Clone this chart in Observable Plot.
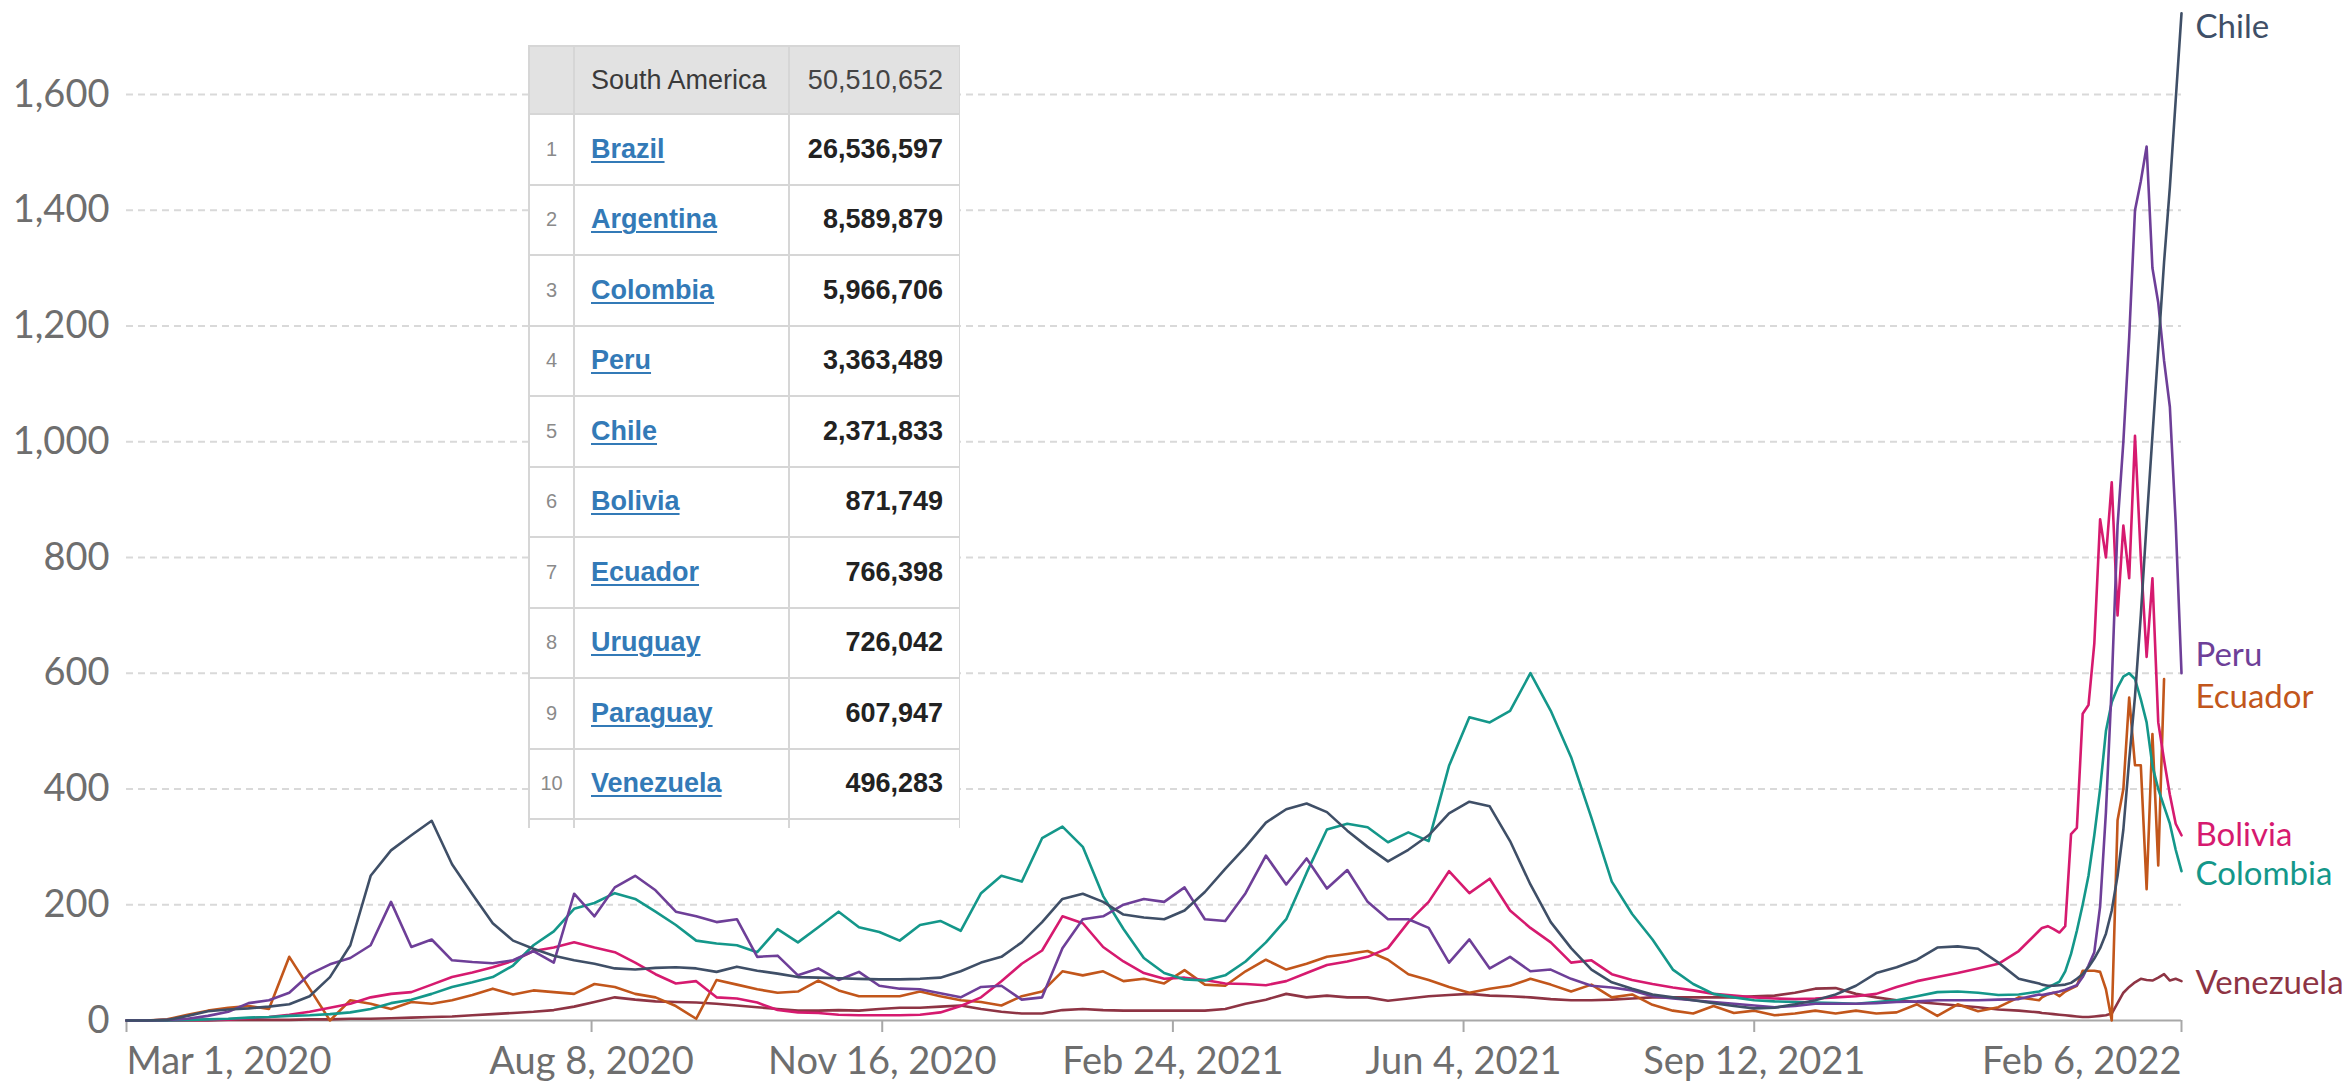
<!DOCTYPE html>
<html>
<head>
<meta charset="utf-8">
<script src="https://cdn.jsdelivr.net/npm/d3@7"></script>
<script src="https://cdn.jsdelivr.net/npm/@observablehq/plot@0.6"></script>
<style>
html, body { margin: 0; padding: 0; background: #fff; }
#wrap { position: relative; width: 2346px; height: 1082px; overflow: hidden; }
#chart svg { display: block; }
#tbl { position: absolute; left: 528px; top: 45px; width: 432px; height: 783px; overflow: hidden; background: #fff; }
#tbl table { border-collapse: collapse; table-layout: fixed; width: 431px; font-family: "Liberation Sans", Arial, sans-serif; }
#tbl td { border: 2px solid #d6d6d6; padding: 0; white-space: nowrap; }
#tbl tr.head td { background: #e2e2e2; height: 66px; font-size: 27px; color: #3a3a3a; }
#tbl tr.row td { height: 68.5px; }
#tbl td.rank { text-align: center; font-size: 20px; color: #8a8a8a; }
#tbl td.name { padding-left: 16px; font-size: 27px; font-weight: bold; }
#tbl td.name a { color: #337ab7; text-decoration: underline; text-decoration-thickness: 2px; text-underline-offset: 3px; }
#tbl td.val { text-align: right; padding-right: 16px; font-size: 27px; font-weight: bold; color: #222; }
#tbl tr.head td.val { font-weight: normal; color: #444; }
</style>
</head>
<body>
<div id="wrap">
  <div id="chart"></div>
  <div id="tbl"></div>
</div>
<script>
// ---------- Data ----------
const startDate = "2020-03-01";
const endDate = "2022-02-06";
// weekly samples (day 0..658, step 7) followed by 2-day samples (day 659..707)
const weeklyCount = 95;
const tailStart = 659, tailStep = 2, tailCount = 25;

const countries = ["Venezuela", "Ecuador", "Bolivia", "Colombia", "Peru", "Chile"];
const colors = ["#8e3444", "#c2561b", "#d61a6f", "#14978a", "#6e3f98", "#3f4f67"];

const chile = [
  0,0,1,8,16,19,21,24,28,42,
  75,130,250,294,320,345,270,218,168,138,
  124,112,104,98,90,88,91,92,90,84,
  93,86,81,75,74,73,72,71,71,72,
  74,85,100,110,135,170,210,219,205,183,
  178,175,190,222,262,300,342,365,375,360,
  328,300,275,295,320,358,378,370,310,235,
  170,125,88,66,55,45,40,35,30,25,
  21,22,28,35,45,60,82,92,105,126,
  128,124,100,72,64,
  62,60,60,61,62,65,72,80,92,107,125,150,190,250,330,450,560,700,860,1010,1160,1310,1440,1590,1740
];
const peru = [
  0,0,1,3,8,15,30,35,48,80,
  97,108,130,205,127,140,104,101,99,104,
  120,100,219,180,230,250,225,188,180,170,
  175,110,112,78,90,70,84,60,55,54,
  47,40,58,60,36,40,125,175,180,200,
  210,205,230,175,172,220,285,235,280,228,
  260,205,175,175,160,100,140,90,110,85,
  88,72,60,57,52,42,38,35,32,29,
  26,23,25,29,29,29,30,32,33,35,
  35,35,36,37,45,
  44,46,48,50,53,57,61,75,95,118,197,360,580,855,1000,1180,1400,1450,1510,1300,1240,1140,1060,860,600
];
const colombia = [
  0,0,0,1,2,3,5,6,8,9,
  11,14,20,30,36,46,58,66,75,95,
  130,154,193,203,220,210,188,165,138,133,
  130,118,158,135,161,188,161,153,138,165,
  172,155,220,250,240,315,335,300,215,158,
  108,82,71,69,78,102,135,175,255,330,
  340,334,308,325,310,440,524,515,535,600,
  535,455,350,240,184,140,88,63,46,40,
  35,33,32,31,30,29,32,35,42,49,
  50,48,44,45,50,
  52,57,62,67,85,115,155,200,250,320,400,500,550,575,594,600,590,555,515,440,400,370,340,295,258
];
const bolivia = [
  0,0,0,1,1,2,4,6,10,15,
  22,29,40,46,49,62,75,83,92,103,
  120,126,135,126,118,100,80,64,68,40,
  38,31,18,14,13,10,9,9,9,10,
  14,25,40,68,98,121,180,168,127,102,
  82,72,74,70,64,63,61,68,82,96,
  102,110,125,170,205,258,220,245,190,160,
  135,100,104,80,70,63,57,52,46,43,
  40,38,37,38,40,42,46,58,68,75,
  82,90,98,120,155,
  160,163,158,152,163,322,333,530,545,651,866,800,930,700,855,764,1010,800,628,764,515,450,390,340,320
];
const ecuador = [
  0,0,2,10,17,22,25,20,110,55,
  0,35,29,20,32,29,35,44,55,45,
  52,49,46,63,58,46,40,25,3,70,
  62,54,48,50,69,52,42,42,42,50,
  42,35,32,26,42,50,85,78,85,68,
  72,64,87,62,60,85,105,88,98,110,
  115,120,105,80,70,58,48,55,60,72,
  62,50,62,40,45,27,17,12,25,13,
  17,9,12,17,12,17,12,14,28,8,
  28,16,23,40,35,
  40,45,48,42,50,55,60,86,86,86,84,54,0,346,400,558,441,441,227,495,268,590,null,null,null
];
const venezuela = [
  0,0,0,0,0,1,1,1,1,2,
  2,3,3,4,5,6,7,9,11,13,
  15,18,24,32,40,36,33,32,31,29,
  26,23,20,17,17,18,17,20,22,22,
  24,26,20,15,12,12,18,20,18,17,
  17,17,17,17,20,29,36,46,40,43,
  40,40,34,38,42,44,46,43,42,40,
  37,35,35,36,38,40,40,40,40,40,
  42,43,48,55,56,46,40,35,32,29,
  26,23,19,17,14,
  13,12,11,10,9,8,7,6,6,7,8,9,12,30,48,58,66,72,70,69,74,80,69,72,68
];
const seriesValues = { Venezuela: venezuela, Ecuador: ecuador, Bolivia: bolivia, Colombia: colombia, Peru: peru, Chile: chile };

// end labels (positions after collision avoidance, in data units)
const labelNames = ["Chile", "Peru", "Ecuador", "Bolivia", "Colombia", "Venezuela"];
const labelValues = [1716, 630, 558, 320, 253, 64];

// axes
const yTicks = [0, 200, 400, 600, 800, 1000, 1200, 1400, 1600];
const gridValues = [200, 400, 600, 800, 1000, 1200, 1400, 1600];
const tickDates = ["2020-03-01", "2020-08-08", "2020-11-16", "2021-02-24", "2021-06-04", "2021-09-12", "2022-02-06"];
const tickLabels = ["Mar 1, 2020", "Aug 8, 2020", "Nov 16, 2020", "Feb 24, 2021", "Jun 4, 2021", "Sep 12, 2021", "Feb 6, 2022"];

// table
const tableRegion = "South America";
const tableTotal = "50,510,652";
const tableCountries = ["Brazil", "Argentina", "Colombia", "Peru", "Chile", "Bolivia", "Ecuador", "Uruguay", "Paraguay", "Venezuela"];
const tableValues = ["26,536,597", "8,589,879", "5,966,706", "3,363,489", "2,371,833", "871,749", "766,398", "726,042", "607,947", "496,283"];

// ---------- Build ----------
const start = new Date(startDate);
const dates = [];
for (let k = 0; k < weeklyCount; k++) dates.push(d3.utcDay.offset(start, 7 * k));
for (let j = 0; j < tailCount; j++) dates.push(d3.utcDay.offset(start, tailStart + tailStep * j));

const rows = [];
for (const c of countries) {
  seriesValues[c].forEach((v, i) => rows.push({ date: dates[i], value: v, country: c }));
}

const ticks = tickDates.map((d, i) => ({
  date: new Date(d), label: tickLabels[i],
  anchor: i === 0 ? "start" : i === tickDates.length - 1 ? "end" : "middle"
}));
const endLabels = labelNames.map((n, i) => ({ name: n, y: labelValues[i], date: new Date(endDate) }));

const axisColor = "#6e6e6e";
const tickText = (anchor) => Plot.text(ticks.filter(t => t.anchor === anchor), {
  x: "date", text: "label", frameAnchor: "bottom", lineAnchor: "top", dy: 27,
  textAnchor: anchor, fill: axisColor, fontSize: 38
});

const chart = Plot.plot({
  width: 2346,
  height: 1082,
  marginLeft: 126,
  marginRight: 165,
  marginTop: 10,
  marginBottom: 62,
  style: { fontFamily: "Lato, sans-serif", fontSize: "38px", background: "white", overflow: "visible" },
  x: { type: "utc", domain: [new Date(startDate), new Date(endDate)], label: null },
  y: { domain: [0, 1745], label: null },
  color: { domain: countries, range: colors },
  marks: [
    Plot.ruleY(gridValues, { stroke: "#d9d9d9", strokeWidth: 2, strokeDasharray: "7,5" }),
    Plot.axisY({ ticks: yTicks, tickSize: 0, tickPadding: 17, tickFormat: d3.format(","), fontSize: 38, color: axisColor, label: null }),
    Plot.axisX({ ticks: tickDates.map(d => new Date(d)), tickSize: 12, tickFormat: () => "", stroke: "#a8a8a8", strokeWidth: 2, label: null }),
    Plot.ruleY([0], { stroke: "#a8a8a8", strokeWidth: 2 }),
    tickText("start"),
    tickText("middle"),
    tickText("end"),
    Plot.line(rows, { x: "date", y: "value", z: "country", stroke: "country", strokeWidth: 2.6 }),
    Plot.text(endLabels, { x: "date", y: "y", text: "name", fill: "name", textAnchor: "start", dx: 14, fontSize: 33 })
  ]
});
document.getElementById("chart").appendChild(chart);

// table
const tbl = document.createElement("table");
const cg = document.createElement("colgroup");
[45, 215, 171].forEach(w => { const c = document.createElement("col"); c.style.width = w + "px"; cg.appendChild(c); });
tbl.appendChild(cg);
const head = document.createElement("tr");
head.className = "head";
head.innerHTML = `<td class="rank"></td><td class="name" style="font-weight:normal;color:#3a3a3a">${tableRegion}</td><td class="val">${tableTotal}</td>`;
tbl.appendChild(head);
tableCountries.forEach((c, i) => {
  const tr = document.createElement("tr");
  tr.className = "row";
  tr.innerHTML = `<td class="rank">${i + 1}</td><td class="name"><a>${c}</a></td><td class="val">${tableValues[i]}</td>`;
  tbl.appendChild(tr);
});
const extra = document.createElement("tr");
extra.className = "row";
extra.innerHTML = `<td class="rank"></td><td class="name"></td><td class="val"></td>`;
tbl.appendChild(extra);
document.getElementById("tbl").appendChild(tbl);
</script>
</body>
</html>
